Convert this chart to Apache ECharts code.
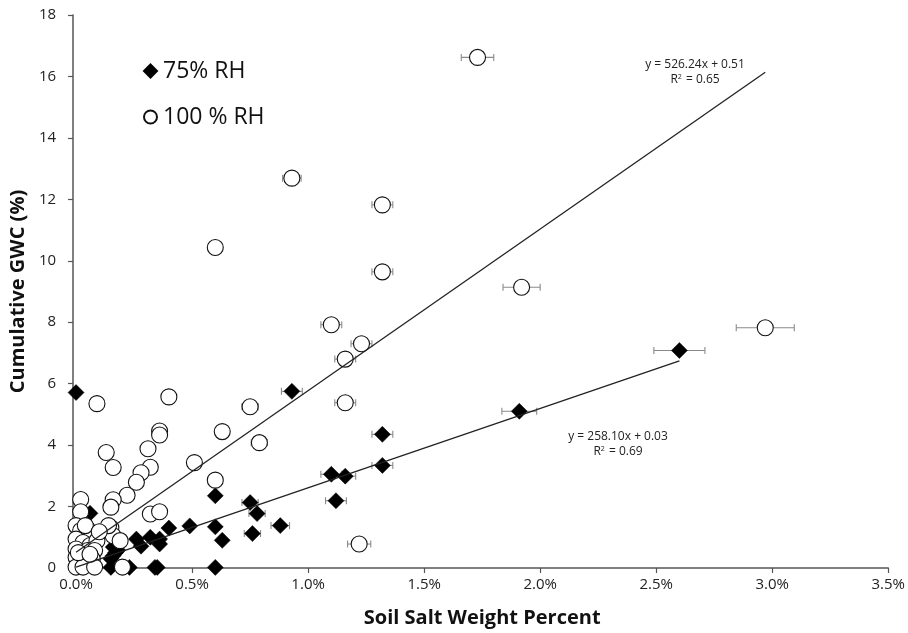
<!DOCTYPE html>
<html>
<head>
<meta charset="utf-8">
<script src="https://cdn.jsdelivr.net/npm/echarts@6/dist/echarts.min.js"></script>
<style>
  html, body { margin: 0; padding: 0; background: #fff; }
  #chart { width: 908px; height: 633px; }
</style>
</head>
<body>
<div id="chart"></div>
<script>
// Soil salt weight percent (x, in %), cumulative GWC (y, in %), horizontal error (in %)
const rh75X = [0.00, 0.93, 2.60, 1.91, 1.32, 1.32, 1.10, 1.16, 1.12, 0.75, 0.78, 0.60, 0.06, 0.88, 0.76, 0.60, 0.63, 0.49, 0.40,
               0.26, 0.28, 0.32, 0.36, 0.36, 0.16, 0.17, 0.15, 0.16, 0.18, 0.15, 0.23, 0.34, 0.35, 0.60];
const rh75Y = [5.71, 5.75, 7.08, 5.10, 4.35, 3.34, 3.05, 2.99, 2.19, 2.13, 1.77, 2.35, 1.78, 1.38, 1.12, 1.34, 0.90, 1.37, 1.30,
               0.94, 0.71, 1.00, 0.94, 0.78, 0.68, 0.50, 0.30, 0.40, 0.58, 0.02, 0.02, 0.02, 0.02, 0.02];
const rh75Err = [0, 0.045, 0.11, 0.075, 0.045, 0.045, 0.045, 0.045, 0.045, 0.035, 0.035, 0, 0, 0.04, 0.035, 0, 0, 0, 0,
                 0, 0, 0, 0, 0, 0, 0, 0, 0, 0, 0, 0, 0, 0, 0];

const rh100X = [1.73, 0.93, 1.32, 0.60, 1.32, 1.92, 2.97, 1.10, 1.23, 1.16, 0.09, 0.40, 0.75, 1.16, 0.36, 0.36, 0.63, 0.79,
                0.13, 0.31, 0.16, 0.32, 0.51, 0.28, 0.26, 0.22, 0.60, 0.02, 0.16, 0.15, 0.02, 0.32, 0.36, 1.22, 0.15, 0.16,
                0.19, 0.20, 0.00, 0.02, 0.05, 0.07, 0.00, 0.03, 0.06, 0.09, 0.00, 0.05, 0.08, 0.00, 0.03, 0.07, 0.00, 0.03,
                0.08, 0.14, 0.04, 0.10, 0.01, 0.06];
const rh100Y = [16.62, 12.69, 11.82, 10.43, 9.64, 9.14, 7.82, 7.92, 7.30, 6.80, 5.35, 5.57, 5.25, 5.38, 4.46, 4.33, 4.44, 4.08,
                3.76, 3.88, 3.27, 3.28, 3.43, 3.10, 2.79, 2.37, 2.86, 2.23, 2.22, 1.98, 1.83, 1.76, 1.83, 0.78, 1.31, 1.05,
                0.89, 0.03, 1.38, 1.22, 1.26, 1.05, 0.94, 0.83, 0.73, 0.89, 0.62, 0.57, 0.57, 0.35, 0.29, 0.29, 0.03, 0.03,
                0.03, 1.38, 1.38, 1.18, 0.50, 0.45];
const rh100Err = [0.07, 0.04, 0.045, 0, 0.045, 0.08, 0.125, 0.045, 0.045, 0.045, 0, 0, 0.035, 0.045, 0, 0, 0, 0.035,
                  0, 0, 0, 0, 0, 0, 0, 0, 0, 0, 0, 0, 0, 0, 0, 0.05, 0, 0,
                  0, 0, 0, 0, 0, 0, 0, 0, 0, 0, 0, 0, 0, 0, 0, 0, 0, 0,
                  0, 0, 0, 0, 0, 0];

// Linear fits (slope per % salt, intercept) and their labels
const fit75 = { slope: 2.5810, intercept: 0.03, eq: 'y = 258.10x + 0.03', r2: '0.69' };
const fit100 = { slope: 5.2624, intercept: 0.51, eq: 'y = 526.24x + 0.51', r2: '0.65' };

const seriesNames = ['75% RH', '100 % RH'];
const xTicks = { min: 0, max: 3.5, interval: 0.5 };
const yTicks = { min: 0, max: 18, interval: 2 };

const pts = (xs, ys) => xs.map((x, i) => [x, ys[i]]);
const errPts = (xs, ys, es) => xs.map((x, i) => [x, ys[i], es[i]]).filter(d => d[2] > 0);
const fitLine = (xs, f) => {
  const xmax = Math.max(...xs);
  return [[0, f.intercept], [xmax, f.slope * xmax + f.intercept]];
};

function errorBar(params, api) {
  const x = api.value(0), y = api.value(1), e = api.value(2);
  const a = api.coord([x - e, y]);
  const b = api.coord([x + e, y]);
  const cap = 3.5;
  const style = { stroke: '#8a8a8a', lineWidth: 1.1 };
  return {
    type: 'group',
    children: [
      { type: 'line', shape: { x1: a[0], y1: a[1], x2: b[0], y2: b[1] }, style },
      { type: 'line', shape: { x1: a[0], y1: a[1] - cap, x2: a[0], y2: a[1] + cap }, style },
      { type: 'line', shape: { x1: b[0], y1: b[1] - cap, x2: b[0], y2: b[1] + cap }, style }
    ]
  };
}

const FONT = '"Open Sans", "Noto Sans", sans-serif';

// Equation and R² lines, centred on a point
function fitLabel(f, cx, cy) {
  return [
    { type: 'text', x: cx, y: cy, z: 10,
      style: { text: f.eq, fill: '#222', fontFamily: FONT, fontSize: 12, textAlign: 'center', textVerticalAlign: 'middle' } },
    { type: 'text', x: cx, y: cy + 15, z: 10,
      style: { text: '{r|R}{s|2}{r| = ' + f.r2 + '}', fill: '#222', fontFamily: FONT, fontSize: 12,
               textAlign: 'center', textVerticalAlign: 'middle',
               rich: { r: { fontSize: 12, fontFamily: FONT, fill: '#222' },
                       s: { fontSize: 7, fontFamily: FONT, fill: '#222', verticalAlign: 'top', padding: [0, 1, 6, 0] } } } }
  ];
}

const chart = echarts.init(document.getElementById('chart'), null, { renderer: 'canvas' });

chart.setOption({
  backgroundColor: '#ffffff',
  animation: false,
  grid: { left: 76, right: 18, top: 15, bottom: 64 },
  legend: {
    left: 138, top: 53, orient: 'vertical',
    itemWidth: 13, itemHeight: 13, itemGap: 20,
    data: seriesNames,
    textStyle: { fontFamily: FONT, fontSize: 23, color: '#111', lineHeight: 26, padding: [0, 0, 0, 1] }
  },
  xAxis: {
    type: 'value', min: xTicks.min, max: xTicks.max, interval: xTicks.interval,
    name: 'Soil Salt Weight Percent', nameLocation: 'middle', nameGap: 40,
    nameTextStyle: { fontFamily: FONT, fontWeight: 'bold', fontSize: 20, color: '#111' },
    axisLine: { lineStyle: { color: '#555', width: 1.5 } },
    axisTick: { show: true, length: 5, lineStyle: { color: '#555', width: 1.2 } },
    axisLabel: { fontFamily: FONT, fontSize: 15, color: '#222', margin: 9,
                 formatter: v => v.toFixed(1) + '%' },
    splitLine: { show: false }
  },
  yAxis: {
    type: 'value', min: yTicks.min, max: yTicks.max, interval: yTicks.interval,
    offset: 3,
    name: 'Cumulative GWC (%)', nameLocation: 'middle', nameGap: 42,
    nameTextStyle: { fontFamily: FONT, fontWeight: 'bold', fontSize: 20, color: '#111' },
    axisLine: { show: true, onZero: false, lineStyle: { color: '#555', width: 1.5 } },
    axisTick: { show: true, length: 5, lineStyle: { color: '#555', width: 1.2 } },
    axisLabel: { fontFamily: FONT, fontSize: 15, color: '#222', margin: 17 },
    splitLine: { show: false }
  },
  series: [
    {
      type: 'custom', name: 'err75', renderItem: errorBar, z: 1,
      data: errPts(rh75X, rh75Y, rh75Err), silent: true
    },
    {
      type: 'custom', name: 'err100', renderItem: errorBar, z: 1,
      data: errPts(rh100X, rh100Y, rh100Err), silent: true
    },
    {
      type: 'scatter', name: seriesNames[0], symbol: 'diamond', symbolSize: 16, z: 2,
      itemStyle: { color: '#000', borderColor: '#000', borderWidth: 0.5, opacity: 1 },
      data: pts(rh75X, rh75Y)
    },
    {
      type: 'scatter', name: seriesNames[1], symbol: 'circle', symbolSize: 16, z: 3,
      itemStyle: { color: '#fff', borderColor: '#111', borderWidth: 1.1, opacity: 1 },
      data: pts(rh100X, rh100Y)
    },
    {
      type: 'line', name: 'fit75', symbol: 'none', z: 4, silent: true,
      lineStyle: { color: '#222', width: 1.3 },
      data: fitLine(rh75X, fit75)
    },
    {
      type: 'line', name: 'fit100', symbol: 'none', z: 4, silent: true,
      lineStyle: { color: '#222', width: 1.3 },
      data: fitLine(rh100X, fit100)
    }
  ],
  graphic: [].concat(fitLabel(fit100, 695, 65), fitLabel(fit75, 618, 437))
});
</script>
</body>
</html>
